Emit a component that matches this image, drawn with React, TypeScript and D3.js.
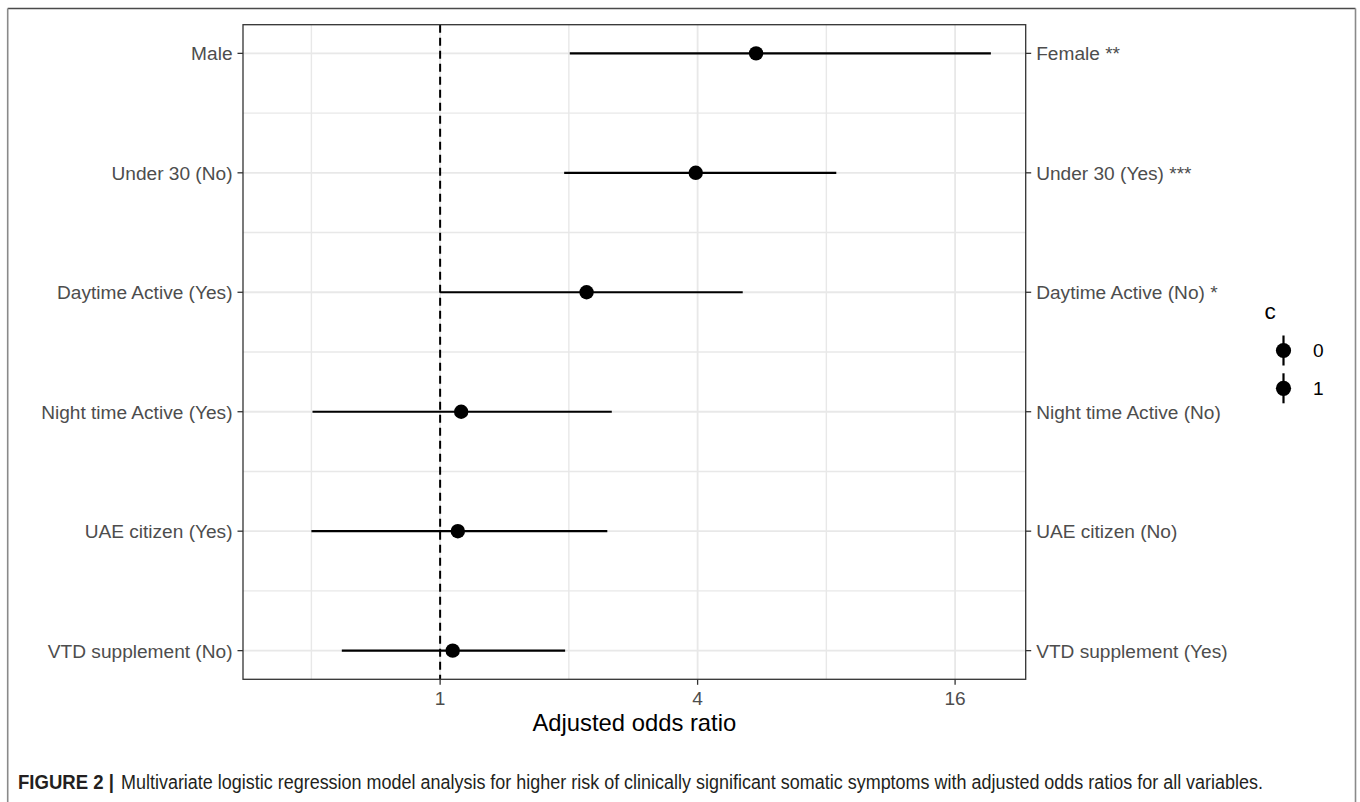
import React from "react";
import * as d3 from "d3";

const leftLabels = [
  "Male",
  "Under 30 (No)",
  "Daytime Active (Yes)",
  "Night time Active (Yes)",
  "UAE citizen (Yes)",
  "VTD supplement (No)",
];
const rightLabels = [
  "Female **",
  "Under 30 (Yes) ***",
  "Daytime Active (No) *",
  "Night time Active (No)",
  "UAE citizen (No)",
  "VTD supplement (Yes)",
];
const oddsRatio = [5.48, 3.96, 2.2, 1.12, 1.1, 1.07];
const lower = [2.01, 1.95, 1.0, 0.503, 0.5, 0.589];
const upper = [19.4, 8.44, 5.1, 2.52, 2.46, 1.96];
const xTicks = [1, 4, 16];
const xMinor = [0.5, 2, 8];
const legendTitle = "c";
const legendLevels = ["0", "1"];
const xTitle = "Adjusted odds ratio";
const captionBold = "FIGURE 2 |";
const captionText =
  "Multivariate logistic regression model analysis for higher risk of clinically significant somatic symptoms with adjusted odds ratios for all variables.";

const W = 1360;
const H = 802;
const P = { left: 243, right: 1025.7, top: 24.7, bottom: 679.3 };
const FONT = "'Liberation Sans', Arial, Helvetica, sans-serif";

export default function App() {
  const x = d3.scaleLog().base(2).domain([0.346, 23.4]).range([P.left, P.right]);
  const y = d3
    .scalePoint<string>()
    .domain(leftLabels)
    .range([P.top, P.bottom])
    .padding(0.24);
  const step = y.step();
  const rowsY = leftLabels.map((l) => y(l) as number);
  const minorY = rowsY.slice(0, -1).map((v) => v + step / 2);

  const tickCol = "#4D4D4D";
  const axisCol = "#333333";
  const gridCol = "#E8E8E8";
  const tickFs = 19.1;

  return (
    <svg
      width={W}
      height={H}
      style={{ position: "absolute", left: 0, top: 0, background: "#fff" }}
      fontFamily={FONT}
    >
      <rect x={0} y={0} width={W} height={H} fill="#fff" />
      {/* outer figure frame */}
      <line x1={7.7} x2={1355.5} y1={8.5} y2={8.5} stroke="#4a4a4a" strokeWidth={1.4} />
      <line x1={7.7} x2={7.7} y1={8.5} y2={H} stroke="#8a8a8a" strokeWidth={1.6} />
      <line x1={1355.5} x2={1355.5} y1={8.5} y2={H} stroke="#8a8a8a" strokeWidth={1.6} />

      {/* grid */}
      {minorY.map((v, i) => (
        <line key={"hm" + i} x1={P.left} x2={P.right} y1={v} y2={v} stroke={gridCol} strokeWidth={1.4} />
      ))}
      {xMinor.map((t, i) => (
        <line key={"vm" + i} x1={x(t)} x2={x(t)} y1={P.top} y2={P.bottom} stroke={gridCol} strokeWidth={1.4} />
      ))}
      {rowsY.map((v, i) => (
        <line key={"hM" + i} x1={P.left} x2={P.right} y1={v} y2={v} stroke={gridCol} strokeWidth={1.8} />
      ))}
      {xTicks.map((t, i) => (
        <line key={"vM" + i} x1={x(t)} x2={x(t)} y1={P.top} y2={P.bottom} stroke={gridCol} strokeWidth={1.8} />
      ))}

      {/* reference line */}
      <line
        x1={x(1)}
        x2={x(1)}
        y1={P.top}
        y2={P.bottom}
        stroke="#000"
        strokeWidth={2}
        strokeDasharray="8,5"
      />

      {/* point ranges */}
      {leftLabels.map((l, i) => (
        <g key={"pr" + i}>
          <line
            x1={x(lower[i])}
            x2={x(upper[i])}
            y1={y(l)}
            y2={y(l)}
            stroke="#000"
            strokeWidth={2.2}
          />
          <circle cx={x(oddsRatio[i])} cy={y(l)} r={7.2} fill="#000" />
        </g>
      ))}

      {/* panel border */}
      <rect
        x={P.left}
        y={P.top}
        width={P.right - P.left}
        height={P.bottom - P.top}
        fill="none"
        stroke={axisCol}
        strokeWidth={1.3}
      />

      {/* left axis */}
      {leftLabels.map((l, i) => (
        <g key={"ly" + i}>
          <line x1={P.left - 5.5} x2={P.left} y1={y(l)} y2={y(l)} stroke={axisCol} strokeWidth={1.3} />
          <text
            x={P.left - 10.5}
            y={y(l) as number}
            dy="0.36em"
            textAnchor="end"
            fontSize={tickFs}
            fill={tickCol}
          >
            {l}
          </text>
        </g>
      ))}
      {/* right axis */}
      {rightLabels.map((l, i) => (
        <g key={"ry" + i}>
          <line
            x1={P.right}
            x2={P.right + 5.5}
            y1={rowsY[i]}
            y2={rowsY[i]}
            stroke={axisCol}
            strokeWidth={1.3}
          />
          <text x={P.right + 10.5} y={rowsY[i]} dy="0.36em" textAnchor="start" fontSize={tickFs} fill={tickCol}>
            {l}
          </text>
        </g>
      ))}
      {/* bottom axis */}
      {xTicks.map((t, i) => (
        <g key={"xt" + i}>
          <line x1={x(t)} x2={x(t)} y1={P.bottom} y2={P.bottom + 5.5} stroke={axisCol} strokeWidth={1.3} />
          <text x={x(t)} y={P.bottom + 25.5} textAnchor="middle" fontSize={tickFs} fill={tickCol}>
            {t}
          </text>
        </g>
      ))}
      <text x={(P.left + P.right) / 2} y={730.5} textAnchor="middle" fontSize={23.8} fill="#000">
        {xTitle}
      </text>

      {/* legend */}
      <text x={1264.5} y={318.5} fontSize={22.5} fill="#000">
        {legendTitle}
      </text>
      {legendLevels.map((lv, i) => {
        const cy = 350.5 + i * 37.8;
        return (
          <g key={"lg" + i}>
            <line x1={1283.5} x2={1283.5} y1={cy - 15} y2={cy + 15} stroke="#000" strokeWidth={2.2} />
            <circle cx={1283.5} cy={cy} r={7.6} fill="#000" />
            <text x={1313} y={cy} dy="0.36em" fontSize={tickFs} fill="#000">
              {lv}
            </text>
          </g>
        );
      })}

      {/* caption */}
      <text x={18} y={789} fontSize={19.5} fontWeight="bold" fill="#231F20" textLength={96} lengthAdjust="spacingAndGlyphs">
        {captionBold}
      </text>
      <text x={121} y={789} fontSize={19.5} fill="#231F20" textLength={1142} lengthAdjust="spacingAndGlyphs">
        {captionText}
      </text>
    </svg>
  );
}
